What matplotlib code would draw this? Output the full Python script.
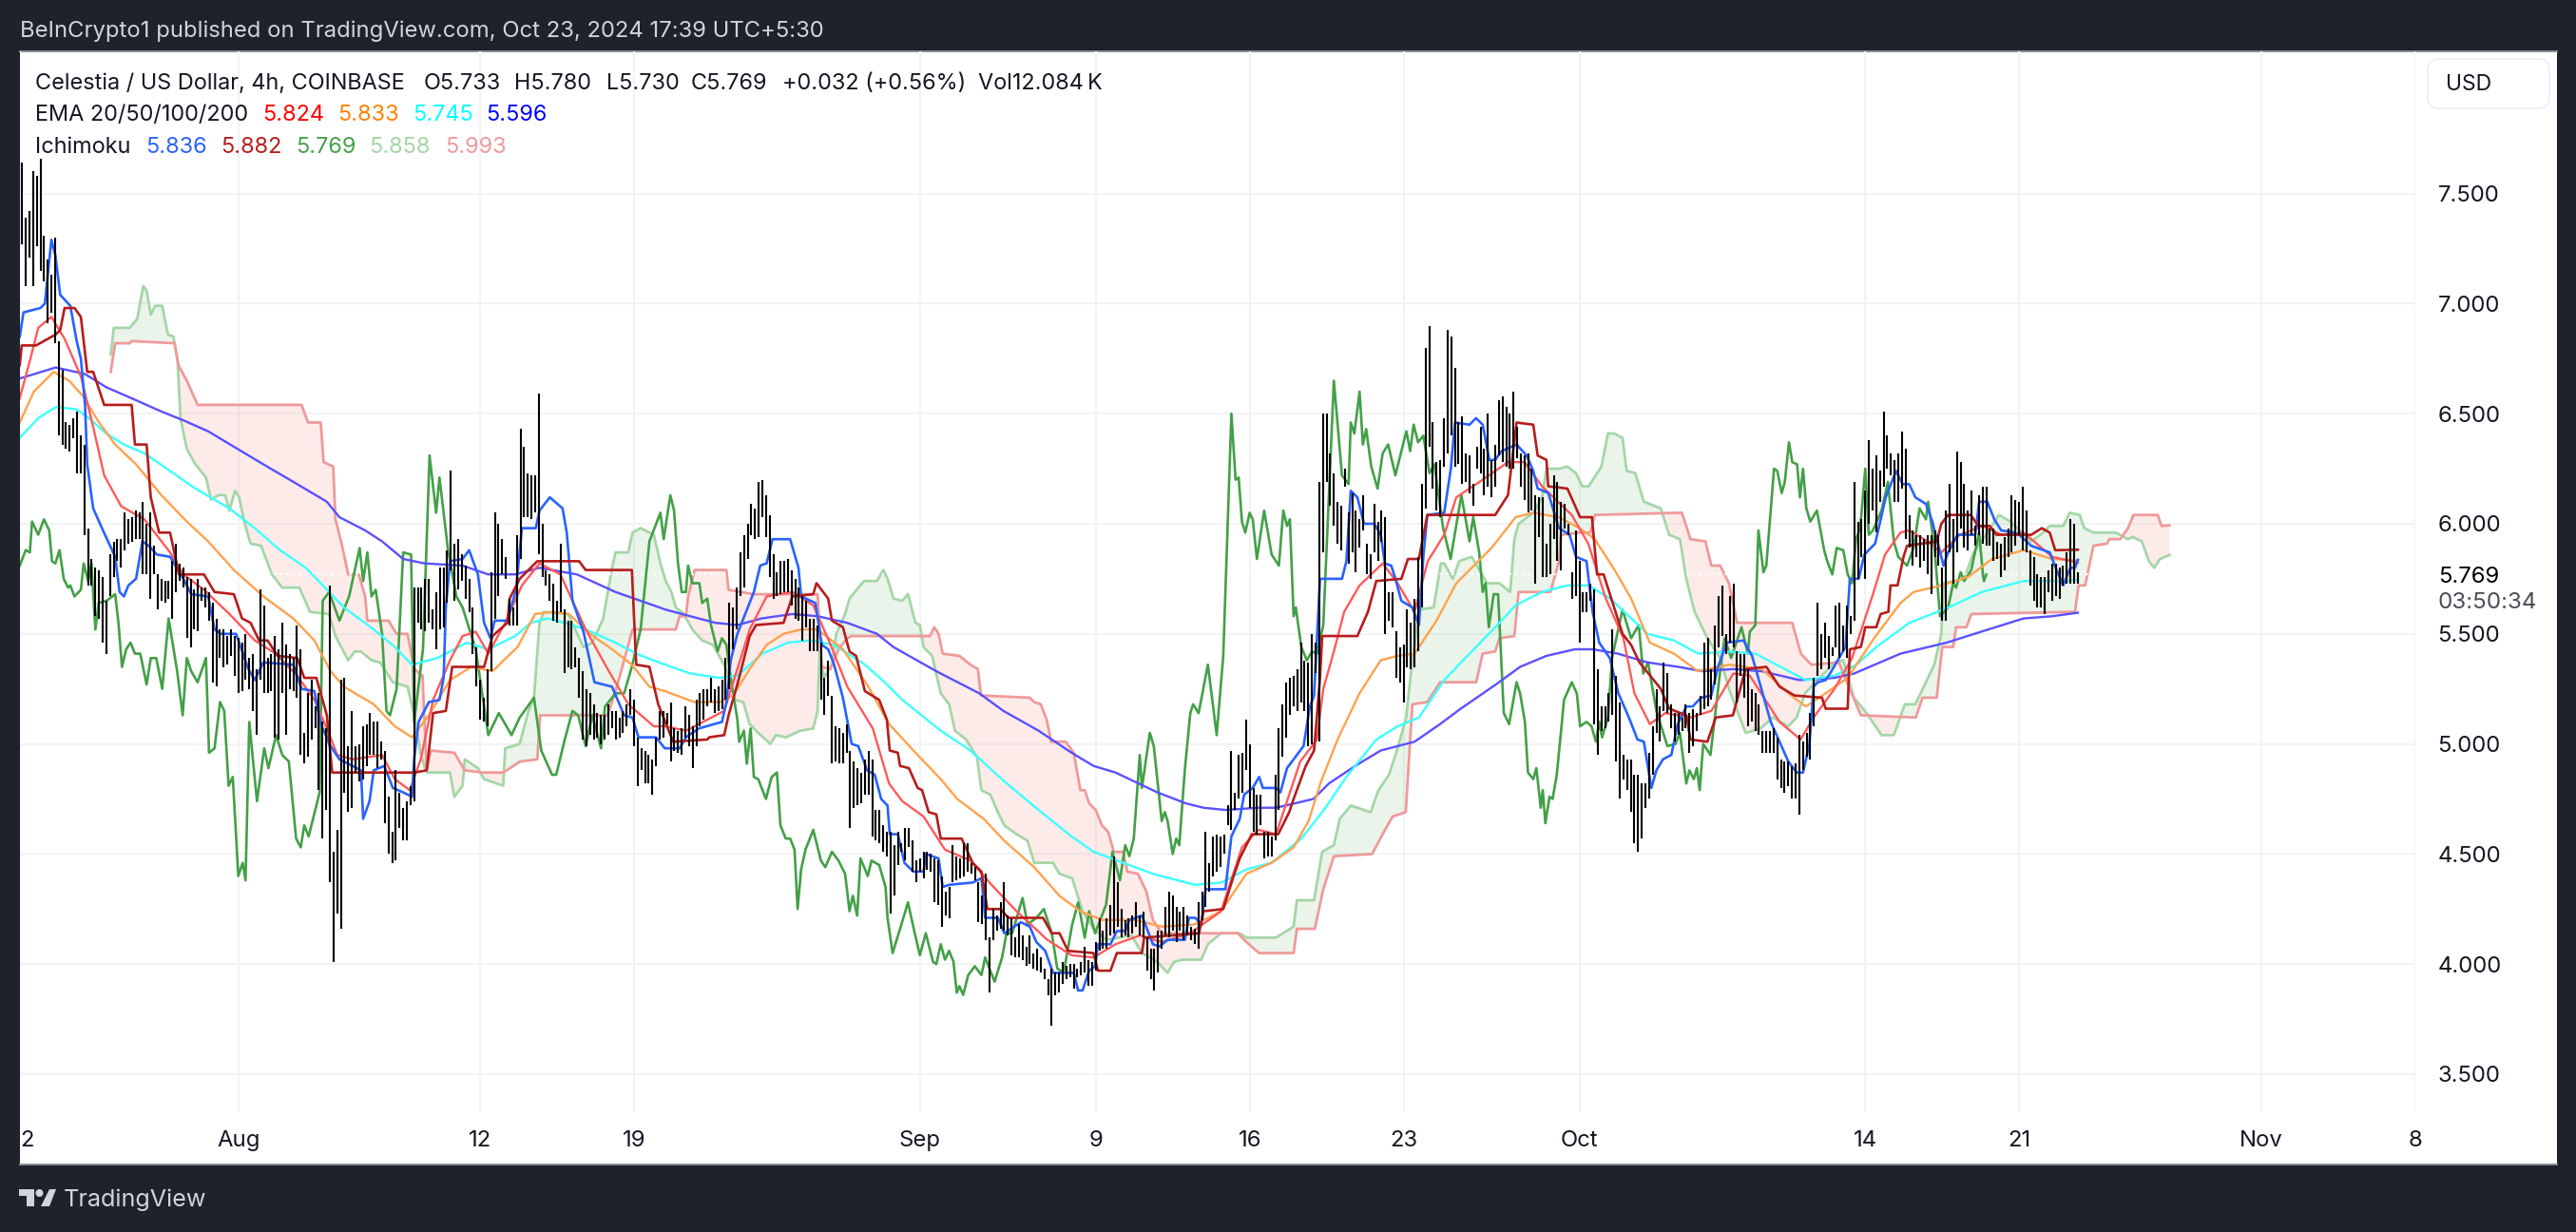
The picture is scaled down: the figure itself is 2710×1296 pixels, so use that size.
import numpy as np
import pandas as pd
import matplotlib
matplotlib.use('Agg')
import matplotlib.pyplot as plt
from matplotlib.patches import Rectangle, FancyBboxPatch, Polygon, Circle

plt.rcParams['font.family'] = ['Inter', 'DejaVu Sans']

# 4h bars, days are counted from Aug 1 2024
bar_high = [
7.64,7.39,7.42,7.60,7.58,7.66,7.31,7.20,7.13,7.30,
6.83,6.70,6.46,6.45,6.48,6.51,6.40,6.36,5.98,5.84,
5.80,5.79,5.76,5.65,5.86,5.92,5.93,5.93,6.05,6.02,
6.03,6.06,6.05,6.10,6.00,6.05,5.90,5.77,5.75,5.74,
5.74,5.83,5.91,5.82,5.80,5.76,5.75,5.70,5.75,5.71,
5.71,5.69,5.64,5.57,5.52,5.52,5.49,5.52,5.49,5.48,
5.46,5.50,5.39,5.41,5.34,5.70,5.63,5.39,5.41,5.49,
5.43,5.55,5.45,5.41,5.39,5.54,5.43,5.05,5.23,5.29,
5.17,5.23,5.10,5.07,5.72,4.51,4.61,5.29,5.30,4.99,
5.15,4.99,5.00,5.08,5.09,5.14,5.10,5.10,5.01,4.97,
4.76,4.60,4.88,4.78,4.71,4.74,4.81,5.71,5.71,5.71,
5.75,5.75,5.61,5.69,5.80,5.80,5.88,6.24,5.91,5.93,
5.86,5.81,5.75,5.62,5.44,5.29,5.21,5.34,5.78,6.05,
6.00,5.93,5.85,5.66,5.62,5.95,6.43,6.35,6.23,6.22,
6.22,6.59,6.00,5.79,5.77,5.73,5.65,5.91,5.61,5.56,
5.56,5.44,5.39,5.33,5.25,5.23,5.18,5.14,5.13,5.13,
5.18,5.15,5.15,5.12,5.15,5.18,5.25,5.20,5.03,4.98,
4.97,4.95,4.93,5.03,5.15,5.15,5.14,5.19,5.07,5.06,
5.07,5.17,5.13,5.08,5.20,5.23,5.25,5.25,5.30,5.25,
5.26,5.29,5.39,5.64,5.62,5.71,5.87,5.95,6.00,6.09,
6.07,6.19,6.20,6.13,6.04,5.86,5.78,5.83,5.83,5.84,
5.79,5.75,5.71,5.67,5.65,5.57,5.57,5.54,5.46,5.30,
5.38,5.22,5.08,5.07,5.05,5.09,4.97,4.92,4.89,4.87,
4.93,4.97,4.93,4.70,4.70,4.63,4.60,4.60,4.54,4.60,
4.55,4.62,4.62,4.56,4.47,4.48,4.51,4.51,4.50,4.48,
4.47,4.40,4.33,4.35,4.54,4.49,4.48,4.55,4.55,4.46,
4.44,4.37,4.31,4.41,4.12,4.25,4.22,4.28,4.37,4.22,
4.21,4.12,4.18,4.13,4.08,4.13,4.05,4.07,4.03,3.98,
3.93,3.98,3.96,3.96,4.01,3.99,4.00,4.00,3.98,4.01,
4.08,4.02,4.01,4.10,4.21,4.15,4.21,4.27,4.49,4.37,
4.25,4.20,4.21,4.22,4.28,4.22,4.24,4.12,4.07,4.07,
4.15,4.15,4.26,4.33,4.31,4.26,4.24,4.26,4.22,4.17,
4.16,4.28,4.33,4.60,4.46,4.58,4.59,4.58,4.59,4.72,
4.97,4.78,4.95,4.96,5.11,5.00,4.80,4.77,4.77,4.60,
4.60,4.58,4.86,5.07,5.18,5.28,5.30,5.31,5.34,5.46,
5.38,5.37,5.50,5.46,6.19,6.50,6.50,6.32,6.23,6.10,
6.08,6.25,6.05,6.14,6.06,6.02,6.13,5.91,5.86,6.09,
6.01,6.06,6.03,5.69,5.69,5.51,5.44,5.45,5.61,5.55,
5.66,5.85,6.18,6.80,6.90,6.46,6.28,6.29,6.48,6.88,
6.85,6.71,6.46,6.49,6.32,6.31,6.18,6.35,6.44,6.34,
6.50,6.29,6.36,6.56,6.58,6.53,6.50,6.60,6.44,6.32,
6.31,6.32,6.25,6.13,6.12,6.12,5.91,6.00,6.22,6.19,
6.10,6.09,6.00,5.78,5.97,5.83,5.69,5.69,5.73,5.70,
5.34,5.17,5.17,5.23,5.52,5.31,5.19,4.95,4.93,4.93,
4.86,4.86,4.82,4.82,4.96,5.08,5.25,5.17,5.37,5.32,
5.18,5.14,5.14,5.12,5.18,5.14,5.16,5.14,5.22,5.46,
5.48,5.34,5.54,5.67,5.72,5.50,5.67,5.73,5.42,5.41,
5.41,5.34,5.25,5.23,5.18,5.06,5.06,5.06,5.07,5.03,
4.93,4.92,4.92,4.90,4.91,5.04,5.01,5.05,5.14,5.30,
5.64,5.50,5.55,5.49,5.44,5.63,5.64,5.54,5.63,5.58,
6.19,6.01,6.02,6.15,6.38,6.25,6.31,6.24,6.51,6.40,
6.32,6.29,6.32,6.42,6.34,6.04,5.97,5.95,5.95,5.93,
5.95,5.95,5.97,5.95,5.80,6.06,6.18,6.02,6.33,6.28,
6.18,6.06,6.15,5.99,6.13,6.17,6.17,5.98,5.98,5.92,
5.91,5.94,5.98,6.13,6.11,6.10,6.17,6.06,5.88,5.85,
5.77,5.76,5.76,5.79,5.82,5.82,5.80,5.81,5.87,6.02,
6.00,5.78]
bar_low = [
7.27,7.08,7.21,7.08,7.26,7.15,7.10,6.91,6.96,6.82,
6.40,6.36,6.34,6.33,6.39,6.23,6.23,5.95,5.72,5.72,
5.58,5.57,5.46,5.41,5.67,5.76,5.83,5.80,5.88,5.91,
5.92,5.93,5.93,5.77,5.77,5.66,5.77,5.61,5.65,5.64,
5.66,5.57,5.69,5.74,5.71,5.48,5.44,5.52,5.51,5.65,
5.62,5.56,5.28,5.26,5.39,5.35,5.36,5.40,5.31,5.23,
5.24,5.29,5.25,5.15,5.04,5.29,5.23,5.23,5.24,5.03,
5.02,5.23,5.04,5.25,5.24,5.21,4.95,4.91,4.94,5.02,
5.07,4.79,4.57,4.70,4.37,4.01,4.23,4.16,4.78,4.69,
4.71,4.87,4.83,4.84,4.90,4.95,4.95,4.89,4.93,4.64,
4.50,4.46,4.47,4.62,4.56,4.56,4.72,4.74,5.55,5.52,
5.51,5.55,5.52,5.43,5.52,5.53,5.64,5.79,5.65,5.70,
5.74,5.66,5.60,5.41,5.26,5.11,5.10,5.08,5.33,5.57,
5.67,5.77,5.75,5.54,5.54,5.54,5.84,6.03,6.03,6.02,
6.05,5.86,5.76,5.72,5.65,5.56,5.55,5.60,5.32,5.35,
5.34,5.35,5.21,5.02,4.99,5.04,5.02,5.03,5.00,5.02,
5.04,5.07,5.02,5.03,5.05,5.08,5.13,4.99,4.81,4.88,
4.82,4.82,4.77,4.90,5.02,5.03,5.09,4.92,4.97,4.96,
4.95,5.03,4.99,4.89,4.99,5.08,5.11,5.17,5.19,5.14,
5.15,5.16,5.20,5.25,5.43,5.52,5.67,5.71,5.84,5.95,
5.93,5.94,6.03,5.94,5.76,5.66,5.67,5.68,5.69,5.69,
5.63,5.57,5.56,5.47,5.53,5.42,5.42,5.42,5.20,5.13,
5.22,4.91,4.92,4.91,4.91,4.96,4.62,4.71,4.72,4.73,
4.77,4.77,4.58,4.56,4.55,4.51,4.49,4.23,4.31,4.45,
4.51,4.47,4.53,4.42,4.37,4.42,4.39,4.43,4.42,4.28,
4.27,4.17,4.22,4.21,4.37,4.38,4.39,4.40,4.42,4.41,
4.38,4.19,4.18,4.11,3.87,4.11,4.15,4.16,4.15,4.13,
4.04,4.03,4.03,4.02,3.99,4.00,3.98,3.97,3.96,3.93,
3.86,3.72,3.86,3.87,3.91,3.93,3.94,3.89,3.94,3.95,
3.96,3.90,3.90,3.97,4.06,4.07,4.07,4.13,4.14,4.17,
4.12,4.13,4.12,4.14,4.17,4.13,4.12,3.97,3.93,3.88,
3.96,4.07,4.13,4.12,4.15,4.10,4.15,4.11,4.13,4.11,
4.09,4.07,4.20,4.26,4.33,4.40,4.42,4.44,4.50,4.63,
4.61,4.70,4.75,4.78,4.88,4.71,4.60,4.59,4.63,4.48,
4.49,4.49,4.56,4.70,4.94,5.03,5.13,5.17,5.15,5.19,
5.15,4.99,5.00,5.32,5.01,5.87,6.19,6.08,5.99,5.91,
5.88,6.17,5.82,5.87,5.78,5.89,5.97,5.77,5.75,5.87,
5.83,5.92,5.50,5.56,5.53,5.30,5.28,5.19,5.35,5.34,
5.35,5.42,5.62,6.07,6.35,6.16,6.06,6.03,6.26,6.32,
6.40,6.26,6.27,6.18,6.19,6.14,6.08,6.25,6.23,6.13,
6.17,6.12,6.17,6.31,6.28,6.26,6.25,6.25,6.30,6.17,
6.11,6.05,6.06,5.73,5.94,5.76,5.76,5.77,5.93,5.83,
5.79,5.98,5.95,5.66,5.67,5.46,5.60,5.60,5.65,5.09,
4.95,5.06,5.07,5.10,5.13,4.92,4.75,4.84,4.79,4.69,
4.55,4.51,4.57,4.71,4.75,4.86,5.05,5.01,5.15,5.14,
5.07,5.01,5.04,5.06,5.07,4.96,4.99,5.06,5.13,5.16,
5.17,5.20,5.27,5.44,5.49,5.41,5.46,5.44,5.19,5.31,
5.21,5.08,5.10,5.06,5.04,4.96,4.96,4.96,4.96,4.84,
4.80,4.78,4.81,4.75,4.75,4.68,4.88,4.94,4.93,5.08,
5.31,5.34,5.39,5.34,5.40,5.44,5.39,5.42,5.39,5.50,
5.56,5.75,5.85,5.75,6.00,6.06,5.96,6.10,6.17,6.25,
6.22,6.10,6.10,6.16,5.93,5.89,5.81,5.85,5.80,5.83,
5.77,5.68,5.85,5.81,5.56,5.56,5.87,5.73,5.87,5.98,
5.89,5.88,5.95,5.90,5.95,5.91,5.90,5.90,5.83,5.84,
5.76,5.79,5.85,5.87,5.90,5.95,5.88,5.87,5.72,5.65,
5.62,5.62,5.59,5.69,5.65,5.67,5.66,5.72,5.73,5.73,
5.73,5.73]

ema200_day = [-9.94,-8.3,-6.97,-6,-4.85,-3.5,-2.5,-1.37,-0.2,1.14,2.68,4.03,4.6,5.77,6.54,7.5,8.47,10.2,11.37,12.6,13.7,15.4,17.16,19.44,20.56,21.7,22.7,23.8,25.2,26.35,27.7,29.05,29.8,31.75,33.7,34.8,36.4,37.9,38.9,39.9,41.8,43.1,43.9,44.9,46.4,47.2,48.9,49.6,50.8,51.96,53.5,54.66,55.6,57.2,58.3,59.5,60.8,61.6,62.75,64.1,65.5,66.6,68,69.3,71,72.6,73.5,75.6,77.7,79.6,81.2,82.5,83.67]
ema200 = [6.66,6.71,6.68,6.62,6.57,6.51,6.47,6.42,6.35,6.27,6.18,6.10,6.03,5.97,5.92,5.84,5.82,5.81,5.77,5.77,5.80,5.77,5.69,5.61,5.58,5.55,5.54,5.57,5.59,5.58,5.55,5.50,5.44,5.33,5.23,5.15,5.06,4.96,4.90,4.87,4.78,4.73,4.71,4.70,4.71,4.71,4.75,4.82,4.90,4.97,5.01,5.09,5.16,5.27,5.35,5.40,5.43,5.43,5.41,5.37,5.35,5.33,5.34,5.33,5.29,5.30,5.32,5.41,5.46,5.52,5.57,5.58,5.596]

ema100_day = [-9.94,-9.1,-8.3,-7.36,-6.8,-6,-5.2,-4.27,-3.1,-1.95,-0.4,0.75,1.9,3.07,3.94,4.8,6.16,7.12,7.9,9.05,10.4,11.37,12.6,13.3,14.07,14.85,15.8,17.16,18.1,19.4,20.56,21.9,22.7,23.84,25,26,27.1,28.5,29.4,30.2,31.95,33.3,34.84,36.4,37.9,38.9,40.25,41.6,43.5,44.7,45.85,47,48.35,49.45,50.4,51.76,52.73,53.7,54.85,56,57.17,58.1,59.3,60.45,61.4,62.4,64.1,65.3,66.4,67.8,69,70.15,71.3,72.6,73.6,74.5,76,77.67,79.3,81.2,82.9,83.67]
ema100 = [6.39,6.48,6.53,6.52,6.48,6.41,6.36,6.32,6.24,6.16,6.07,5.98,5.88,5.80,5.71,5.62,5.52,5.44,5.36,5.39,5.46,5.43,5.49,5.55,5.57,5.55,5.52,5.46,5.41,5.36,5.32,5.30,5.31,5.41,5.46,5.47,5.45,5.36,5.28,5.20,5.06,4.97,4.83,4.70,4.58,4.51,4.46,4.41,4.36,4.37,4.43,4.46,4.57,4.71,4.85,5.02,5.08,5.12,5.29,5.41,5.53,5.63,5.69,5.72,5.72,5.66,5.50,5.47,5.41,5.42,5.41,5.35,5.29,5.31,5.36,5.44,5.55,5.615,5.69,5.74,5.74,5.745]

ema50_day = [-9.94,-9.3,-8.4,-7.7,-7.06,-6.4,-5.6,-4.65,-3.5,-2.34,-1.37,-0.2,1.14,2.5,3.46,4.2,4.8,6.16,7.12,7.9,8.67,9.63,10.6,11.56,12.7,13.5,14.27,15.04,16,17,17.9,18.7,19.4,20.74,21.9,22.5,23.26,24.03,24.8,25.6,26.35,27.5,28.66,29.6,30.8,31.95,32.7,33.9,34.84,36.2,37.35,38.3,39.3,40.8,42,43.5,44.7,45.85,47,48,48.68,49.25,50,51,51.96,52.73,53.5,54.5,55.4,57,58.1,58.9,60.07,61,61.7,62.6,63.35,64.2,65.3,66.4,67.8,69.3,70.5,71.3,72.2,73.2,74.4,75.6,76.2,77.46,78.7,79.77,81.2,82.5,83.67]
ema50 = [6.46,6.60,6.69,6.65,6.58,6.47,6.36,6.27,6.13,6.01,5.92,5.79,5.67,5.57,5.47,5.33,5.26,5.18,5.08,5.03,5.13,5.29,5.35,5.33,5.44,5.59,5.60,5.59,5.50,5.43,5.36,5.26,5.24,5.19,5.19,5.22,5.34,5.45,5.50,5.52,5.52,5.43,5.26,5.09,4.96,4.84,4.75,4.66,4.56,4.44,4.31,4.24,4.20,4.20,4.17,4.18,4.24,4.41,4.46,4.53,4.65,4.83,5.02,5.23,5.38,5.40,5.41,5.56,5.73,5.89,6.03,6.05,6.03,5.98,5.93,5.79,5.66,5.46,5.41,5.33,5.36,5.34,5.23,5.17,5.23,5.30,5.48,5.64,5.69,5.72,5.76,5.84,5.88,5.84,5.833]

ema20_day = [-9.94,-9.48,-9.1,-8.5,-7.9,-7.16,-6.6,-6.1,-5.33,-4.27,-3.1,-2.5,-1.56,-0.4,0.75,1.7,2.68,3.46,4.03,4.5,5.2,6.54,7.12,7.8,8.3,8.86,9.63,10.2,10.8,11.37,12.14,12.9,13.7,14.65,15.8,16.8,17.74,18.9,19.44,20.36,21.33,22.1,22.7,23.26,24.03,25.2,26.15,26.9,27.7,28.86,29.6,30.2,31.17,32.14,33.3,34.26,35.4,36.8,37.9,38.9,39.9,41,42,43.3,44.7,45.65,46.4,47.2,48.3,49.06,49.35,49.83,50.3,51,52.05,52.73,53.5,54.1,54.85,55.4,56.6,57.75,58.5,59.3,60.65,61.4,62.2,63,63.5,64.2,64.9,66.05,67,68,68.75,70.1,71.06,71.65,72.6,73.4,74.35,74.9,75.6,76,76.83,77.46,78.3,79.35,80.2,81.2,82.5,83.67]
ema20 = [6.57,6.74,6.89,6.94,6.84,6.67,6.44,6.22,6.08,6.02,5.87,5.77,5.70,5.59,5.47,5.41,5.31,5.20,5.07,4.95,4.93,4.95,4.84,4.79,4.93,5.20,5.38,5.49,5.51,5.41,5.55,5.72,5.82,5.77,5.52,5.34,5.18,5.08,5.08,5.06,5.11,5.15,5.34,5.52,5.67,5.69,5.63,5.46,5.26,5.07,4.82,4.74,4.67,4.52,4.47,4.36,4.24,4.11,4.04,4.03,4.09,4.13,4.10,4.14,4.24,4.53,4.61,4.59,4.92,5.02,5.25,5.42,5.60,5.72,5.82,5.73,5.60,5.83,5.95,6.12,6.20,6.28,6.28,6.17,6.04,5.91,5.66,5.48,5.23,5.09,5.14,5.12,5.15,5.32,5.31,5.10,5.02,5.12,5.25,5.39,5.68,5.86,5.96,5.97,5.92,5.87,5.95,5.99,5.95,5.96,5.85,5.824]

kijun_day = [-9.94,-9.85,-9.2,-8.3,-8.1,-7.9,-7.45,-7.16,-6.87,-6.6,-6.1,-4.85,-4.7,-4.17,-3.98,-3.6,-3.1,-2.7,-1.56,-1.08,-0.2,0.17,0.56,0.95,1.33,1.8,2.68,3,3.55,4.03,4.27,8,8.57,8.86,9.44,9.73,11.18,11.56,12.24,12.34,12.8,13.6,15.5,15.8,17.9,18.1,18.7,19.1,19.78,21.33,21.42,22.1,22.3,22.78,23.26,23.55,24.8,25.2,26.15,26.3,26.83,27,27.5,27.8,28.1,28.5,29.15,29.5,29.63,30,30.1,30.5,30.9,31.1,31.4,31.75,31.95,32.9,33.4,33.8,34.07,34.65,35.03,36.6,37,37.35,37.74,38.9,39.1,39.67,39.96,41.1,41.2,43.7,43.9,44.8,45.27,45.55,46.1,47.3,47.8,48,48.55,48.93,49.2,49.3,50.9,51.38,51.76,52.9,53.2,53.7,54.08,57.17,57.75,58.14,58.9,59.1,59.5,59.58,60.45,61.03,61.57,61.8,62.1,62.96,63.35,63.73,64.3,64.7,65.08,65.86,66.05,66.82,67.2,67.98,68.56,69.5,70.1,70.78,72.03,72.2,73.2,73.3,73.8,74,74.5,74.7,75.05,75.15,75.47,75.74,75.9,76.6,77.25,77.46,77.77,78.8,79.14,79.66,79.97,81.55,82.03,82.39,82.64,83.67]
kijun = [6.72,6.81,6.81,6.86,6.88,6.98,6.98,6.94,6.69,6.69,6.54,6.54,6.36,6.36,6.12,5.96,5.96,5.77,5.77,5.69,5.68,5.57,5.55,5.47,5.47,5.40,5.39,5.30,5.30,5.13,4.87,4.87,4.88,5.14,5.15,5.35,5.35,5.49,5.55,5.66,5.75,5.83,5.83,5.79,5.79,5.36,5.35,5.18,5.01,5.02,5.03,5.04,5.13,5.30,5.49,5.54,5.55,5.67,5.68,5.73,5.66,5.56,5.53,5.42,5.40,5.24,5.20,5.11,4.97,4.96,4.90,4.89,4.80,4.79,4.69,4.68,4.57,4.57,4.46,4.42,4.25,4.25,4.21,4.21,4.14,4.14,4.06,4.05,3.97,3.97,4.05,4.05,4.12,4.14,4.24,4.25,4.40,4.48,4.59,4.59,4.69,4.75,4.90,4.97,5.30,5.49,5.49,5.60,5.74,5.75,5.84,5.84,6.04,6.04,6.13,6.46,6.45,6.31,6.29,6.17,6.16,6.03,6.03,5.77,5.77,5.50,5.45,5.37,5.30,5.25,5.16,5.13,5.02,5.01,5.12,5.13,5.34,5.35,5.26,5.22,5.21,5.16,5.16,5.43,5.44,5.53,5.53,5.59,5.60,5.72,5.72,5.85,5.90,5.91,5.92,6.00,6.04,6.04,5.99,5.99,5.95,5.95,5.98,5.96,5.88,5.882]

tenkan_day = [-9.94,-9.77,-9,-8.8,-8.5,-8.32,-8.1,-7.64,-7.35,-7.16,-6.97,-6.87,-6.6,-6.2,-5.6,-5.4,-5.2,-5,-4.65,-4.36,-4.07,-3.7,-3.1,-2.5,-2.14,-1.37,-1.08,-0.8,-0.1,0.46,0.75,1.14,2.5,2.88,3.46,3.75,4.03,4.13,4.6,5.2,5.58,5.68,5.97,6.16,6.64,7.03,7.5,7.9,8,8.2,8.67,9.15,9.34,9.44,9.63,10.2,10.5,10.9,11.18,11.47,11.66,12.24,12.63,12.9,13.53,13.7,14.17,14.75,14.94,15.2,15.7,16.2,17,17.55,17.93,18.2,19,19.4,20.07,20.36,20.94,22,22.2,22.4,22.7,23.45,23.74,24.03,24.3,25.1,25.48,25.6,26.25,26.54,26.83,27.1,27.5,27.9,28.2,28.6,28.95,29.24,29.53,29.63,30,30.3,30.7,31.17,31.27,31.85,32.04,32.33,33.4,33.8,33.97,34.55,34.84,35.6,36,36.3,36.7,37.06,38,38.2,38.4,38.7,38.97,39.1,39.67,39.96,40.34,40.53,41.1,41.6,41.9,42.27,43.05,43.24,43.53,43.8,44,44.9,45.17,45.55,45.75,46.14,46.43,46.6,47.2,47.4,47.7,48.45,48.74,48.93,49.2,50.2,50.4,50.6,50.9,51.2,51.67,51.96,52.15,52.44,52.63,52.9,53.4,53.7,53.9,54.08,54.85,55.15,55.34,56,56.3,56.6,56.9,57.17,57.46,58.14,58.6,58.9,59.1,59.58,60.07,60.55,60.84,61.32,61.6,61.9,62.38,62.77,63.25,63.64,63.93,64.27,64.5,64.8,65.18,65.47,65.86,66.15,66.53,67,67.3,67.7,68.46,68.85,69.33,69.7,70.5,70.88,71.17,71.46,71.65,71.84,72.2,72.4,73.1,73.3,73.7,73.96,74.45,74.93,75.4,75.7,76,76.28,76.76,77.05,77.56,77.77,78.2,79,79.18,79.55,79.87,80.18,80.8,81,81.55,82.39,82.7,83,83.33,83.54,83.67]
tenkan = [6.85,6.96,6.98,7.00,7.29,7.22,7.04,6.99,6.83,6.75,6.54,6.27,6.07,5.98,5.85,5.69,5.67,5.72,5.75,5.92,5.90,5.86,5.85,5.75,5.68,5.67,5.52,5.50,5.50,5.34,5.29,5.37,5.36,5.25,5.24,5.09,5.03,5.00,4.93,4.90,4.88,4.66,4.74,4.88,4.90,4.80,4.78,4.76,4.93,5.10,5.19,5.20,5.30,5.62,5.83,5.84,5.88,5.77,5.55,5.48,5.56,5.56,5.70,5.98,5.98,6.06,6.12,6.07,5.96,5.65,5.51,5.28,5.26,5.13,5.12,5.03,5.03,4.98,4.98,5.03,5.07,5.10,5.19,5.38,5.50,5.69,5.81,5.82,5.93,5.93,5.80,5.67,5.64,5.45,5.43,5.36,5.21,5.00,4.99,4.88,4.86,4.75,4.72,4.59,4.59,4.46,4.42,4.42,4.50,4.48,4.35,4.36,4.37,4.39,4.21,4.21,4.14,4.19,4.17,4.10,4.06,3.96,3.96,3.88,3.88,3.97,3.99,4.09,4.09,4.15,4.15,4.20,4.22,4.09,4.08,4.11,4.11,4.21,4.21,4.18,4.34,4.34,4.58,4.66,4.77,4.80,4.85,4.80,4.80,4.78,4.89,4.99,5.17,5.22,5.75,5.75,5.83,6.15,6.12,6.00,6.00,5.95,5.82,5.81,5.75,5.65,5.62,5.54,5.85,6.04,6.05,6.25,6.46,6.45,6.48,6.45,6.29,6.29,6.33,6.36,6.31,6.24,6.16,6.14,5.98,5.95,5.85,5.83,5.60,5.46,5.39,5.23,5.12,5.02,5.01,4.80,4.88,4.93,4.95,5.09,5.17,5.17,5.21,5.22,5.35,5.46,5.47,5.40,5.23,5.10,4.92,4.87,4.87,5.00,5.26,5.28,5.29,5.32,5.44,5.75,5.75,5.86,5.91,6.12,6.24,6.18,6.18,6.12,6.09,6.01,5.81,5.87,5.95,5.95,6.10,6.10,6.02,5.97,5.96,5.95,5.90,5.87,5.79,5.72,5.80,5.80,5.836]

chikou_day = [-9.94,-9.67,-9.48,-9.38,-9.1,-8.84,-8.6,-8.47,-8.32,-8.13,-7.94,-7.74,-7.64,-7.45,-7.16,-7.03,-6.83,-6.68,-6.5,-6.35,-6,-5.6,-5.45,-5.29,-5.1,-4.9,-4.7,-4.46,-4.17,-3.98,-3.73,-3.46,-3.17,-2.78,-2.53,-2.34,-2.14,-1.85,-1.47,-1.33,-1.08,-0.83,-0.64,-0.44,-0.25,0,0.2,0.33,0.5,0.85,1.18,1.37,1.72,2,2.3,2.63,2.84,3,3.2,3.7,3.84,4.13,4.6,5.04,5.52,5.68,5.87,6.06,6.25,6.54,6.74,6.9,7.2,7.5,7.86,8,8.4,8.7,9,9.15,9.54,9.92,10.2,10.8,11.37,11.85,12.43,12.8,13.45,13.78,14.27,14.46,14.85,15.2,15.46,15.8,16.1,16.5,16.68,17.16,17.55,17.9,18.3,18.7,19.2,19.35,19.65,19.82,20,20.17,20.36,20.46,20.65,20.97,21.1,21.33,21.5,21.8,22,22.2,22.4,22.7,22.78,23,23.13,23.3,23.45,23.65,24,24.26,24.5,24.66,24.9,25.1,25.3,25.44,25.6,25.8,26.15,26.5,26.7,27,27.3,27.6,27.8,27.95,28.15,28.3,28.63,28.8,29.15,29.44,29.53,29.76,30.1,30.46,30.7,31,31.27,31.6,31.75,31.95,32.14,32.33,32.53,32.68,32.8,32.97,33.2,33.5,33.8,33.97,34.4,34.74,34.94,35.2,35.67,35.9,36.3,36.64,37,37.25,37.54,37.93,38.2,38.5,38.7,38.97,39.47,39.76,40.1,40.34,40.53,40.73,41,41.1,41.46,41.64,42,42.14,42.27,42.5,42.66,42.8,43.05,43.3,43.43,43.68,44.1,44.5,44.8,45.17,45.36,45.5,45.65,45.8,46,46.14,46.33,46.66,47,47.33,47.53,47.7,47.83,48,48.1,48.35,48.6,48.84,49.06,49.35,49.83,50.2,50.5,50.6,50.76,51,51.15,51.3,51.53,51.82,52.05,52.3,52.63,53,53.13,53.3,53.46,53.66,53.9,54.18,54.4,54.8,55.14,55.63,56,56.17,56.44,56.6,56.73,56.88,57.1,57.3,57.56,57.8,58.14,58.3,58.52,58.66,58.9,59.04,59.24,59.33,59.45,59.64,59.78,59.97,60.3,60.65,60.88,61.03,61.32,61.55,61.75,61.9,62.03,62.3,62.48,62.96,63.35,63.7,63.9,64.12,64.5,65,65.37,65.57,65.86,66,66.2,66.34,66.47,66.63,66.96,67.4,67.6,67.9,68.37,68.66,68.75,69,69.14,69.37,69.5,69.85,70,70.2,70.34,70.53,70.68,70.9,71.03,71.17,71.32,71.5,71.8,72.13,72.27,72.5,72.7,73,73.2,73.4,73.58,73.77,74,74.16,74.35,74.74,75.03,75.3,75.5,75.9,76.2,76.47,76.76,76.86,77.15,77.4,77.77,78,78.13,78.34,78.5,78.82,79.18,79.35,79.4,79.5]
chikou = [5.81,5.88,5.87,6.01,5.95,6.02,5.97,5.83,5.82,5.88,5.75,5.71,5.72,5.67,5.70,5.82,5.74,5.82,5.52,5.64,5.65,5.68,5.55,5.35,5.43,5.46,5.41,5.41,5.27,5.39,5.39,5.25,5.57,5.33,5.13,5.39,5.33,5.28,5.39,4.96,4.98,5.19,5.15,4.81,4.85,4.40,4.46,4.38,5.10,4.74,4.98,4.89,5.04,4.95,4.92,4.57,4.53,4.63,4.58,4.78,5.65,5.69,5.56,5.67,5.89,5.74,5.87,5.67,5.70,5.50,5.15,5.13,5.25,5.87,5.86,5.10,5.43,6.31,6.05,6.21,5.88,5.67,5.62,5.43,5.04,5.14,5.04,5.12,5.21,4.97,4.86,4.86,5.02,5.15,5.13,4.99,5.13,4.98,5.17,5.23,5.23,5.35,5.52,5.92,6.05,5.93,6.13,6.06,5.82,5.69,5.69,5.81,5.73,5.73,5.64,5.66,5.54,5.42,5.48,5.45,5.30,5.11,5.01,5.06,4.91,5.07,4.85,4.84,4.75,4.85,4.87,4.63,4.57,4.57,4.52,4.25,4.43,4.52,4.61,4.47,4.44,4.51,4.47,4.41,4.24,4.31,4.22,4.48,4.40,4.47,4.45,4.35,4.21,4.05,4.16,4.28,4.17,4.04,4.14,4.01,4.00,4.09,4.02,4.06,4.01,3.87,3.90,3.86,3.95,3.99,3.95,4.03,3.92,4.03,4.14,4.14,4.30,4.18,4.21,4.25,4.14,3.98,3.96,4.18,4.28,4.12,4.24,4.14,4.27,4.51,4.38,4.54,4.49,4.57,4.95,4.80,5.05,4.99,4.65,4.69,4.65,4.50,4.57,4.54,4.88,5.14,5.18,5.14,5.36,5.04,5.40,6.50,6.20,6.21,6.01,5.96,6.05,6.02,5.84,6.06,5.86,5.81,6.06,5.99,6.02,5.58,5.62,5.44,5.38,5.42,5.41,5.54,6.65,6.22,6.18,6.46,6.41,6.60,6.36,6.43,6.26,6.16,6.32,6.36,6.22,6.37,6.42,6.33,6.45,6.37,6.40,6.23,6.27,5.98,5.84,6.13,5.92,6.03,5.87,5.69,5.73,5.53,5.68,5.68,5.14,5.09,5.28,5.23,5.10,4.87,4.84,4.89,4.71,4.79,4.64,4.76,4.75,4.86,5.20,5.28,5.23,5.08,5.10,5.08,5.01,5.10,5.03,5.12,5.39,5.61,5.48,5.54,5.32,5.37,5.15,4.99,5.00,5.05,4.82,4.88,4.84,4.89,4.79,5.00,4.95,5.33,5.48,5.39,5.53,5.41,5.51,5.54,5.97,5.78,5.81,6.25,6.24,6.14,6.19,6.37,6.28,6.27,6.12,6.25,6.07,6.01,6.06,5.88,5.83,5.77,5.89,5.88,5.77,5.73,5.93,5.98,6.25,5.95,5.97,6.06,6.19,5.92,5.85,5.81,5.89,6.07,6.02,6.10,5.89,5.58,5.62,5.73,5.71,5.78,5.74,5.79,5.96,5.77,5.74,5.769]

span_a_day = [-5.8,-5.66,-4.94,-4.6,-4.32,-4.17,-3.98,-3.78,-3.46,-3.2,-2.95,-2.76,-2.63,-2.34,-1.95,-1.47,-1.24,-0.9,-0.6,-0.4,-0.15,0.04,0.27,0.56,1.04,1.53,2,2.78,3.26,4.13,4.42,5,5.3,5.58,6.06,6.45,7.03,7.7,8,8.3,8.57,9.63,9.83,10.2,10.3,10.9,11.18,12.05,12.14,12.8,13.2,13.45,13.7,13.9,15,15.7,16.1,16.6,17,17.16,17.74,17.93,18.3,18.9,19.2,19.44,19.7,19.9,20.27,20.65,21.1,21.6,22.2,22.6,22.97,23.26,23.65,24.2,24.45,24.9,25.57,26.15,26.35,26.44,26.64,27,27.2,27.6,27.8,28.2,28.47,29.05,29.34,29.53,29.8,30.2,30.46,30.8,31,31.17,31.56,31.95,32.33,32.6,33.1,33.6,33.8,34.2,34.55,34.84,35.4,35.9,36.2,37.06,37.35,37.93,38.4,38.9,39.47,40.63,41.1,41.8,42.27,42.56,42.95,43.8,44.1,44.7,45.55,45.85,46.33,47.2,48,48.15,48.93,49.3,49.83,50.1,50.6,51.5,51.86,52.34,52.73,53.12,53.3,53.7,54.37,54.7,54.85,55.24,55.53,56.1,56.8,57.36,57.85,58.04,58.23,58.9,59.3,59.5,60.07,60.45,60.84,61.13,61.42,62,62.3,62.58,62.96,63.15,63.54,63.93,64.7,65.08,65.57,65.86,66.24,66.82,67.4,67.8,68.56,69.24,69.8,70.5,70.88,71.26,72.6,73,73.48,74.06,74.74,75.3,75.8,76.28,76.47,77.14,77.46,77.56,78.5,78.93,79.35,80.08,80.6,81.55,81.97,82.39,83,83.3,83.75,83.96,84.38,85,85.4,85.95,86.16,86.58,86.9,87.14,87.4,87.84]
span_a = [6.77,6.89,6.89,6.93,7.08,7.06,6.95,6.99,6.99,6.86,6.85,6.74,6.48,6.34,6.27,6.21,6.11,6.13,6.13,6.06,6.15,6.12,6.01,5.91,5.90,5.77,5.71,5.71,5.60,5.59,5.49,5.38,5.42,5.42,5.38,5.37,5.28,5.26,5.13,4.95,4.87,4.87,4.76,4.81,4.93,4.89,4.84,4.81,4.98,5.00,5.15,5.21,5.55,5.60,5.59,5.44,5.46,5.57,5.80,5.87,5.87,5.96,5.98,5.95,5.82,5.74,5.69,5.62,5.59,5.52,5.47,5.45,5.34,5.20,5.19,5.09,5.05,5.00,5.04,5.03,5.06,5.07,5.15,5.42,5.30,5.36,5.50,5.59,5.66,5.71,5.74,5.74,5.79,5.75,5.66,5.65,5.68,5.55,5.54,5.44,5.40,5.23,5.18,5.06,5.02,4.94,4.79,4.77,4.69,4.63,4.59,4.56,4.46,4.46,4.41,4.39,4.24,4.16,4.11,4.13,4.05,4.01,3.96,4.01,4.02,4.02,4.09,4.14,4.14,4.12,4.12,4.12,4.17,4.29,4.29,4.51,4.54,4.66,4.72,4.69,4.79,4.86,4.98,5.12,5.29,5.61,5.62,5.82,5.82,5.75,5.83,5.85,5.73,5.73,5.69,5.93,6.00,6.05,6.12,6.25,6.25,6.26,6.23,6.17,6.17,6.26,6.41,6.41,6.39,6.24,6.23,6.10,6.07,5.95,5.93,5.75,5.60,5.48,5.39,5.25,5.05,5.07,5.12,5.08,5.12,5.23,5.37,5.38,5.21,5.14,5.04,5.04,5.18,5.18,5.22,5.36,5.50,5.73,5.75,5.87,5.93,6.04,6.01,5.92,5.95,5.99,5.99,6.05,6.04,5.98,5.96,5.96,5.96,5.93,5.94,5.92,5.83,5.80,5.84,5.858]

span_b_day = [-5.8,-5.6,-4.94,-4.85,-2.9,-2.72,-2.34,-1.85,2.88,3.17,3.75,3.88,4.32,4.42,4.7,5,5.48,5.77,5.87,6.83,7.2,7.7,8,8.38,8.47,8.57,8.76,9.83,10.3,11.08,12.05,12.82,13.6,13.73,15.2,16.8,17.16,17.55,17.93,19.9,20.07,20.36,20.46,20.75,22.2,22.3,23.45,26.35,26.54,26.93,27.3,27.7,27.9,31.46,31.66,31.85,32.04,32.8,33.3,33.64,33.78,36,36.2,36.5,36.77,36.97,37.64,38,38.3,38.5,38.7,39,39.28,39.57,39.82,40.25,40.44,40.92,41.3,41.6,42,43.8,45.46,45.85,46.43,48,48.15,48.96,49.35,49.83,51.57,52.05,52.5,53.1,53.4,54.08,54.66,56.3,56.6,57.17,57.36,58.04,58.23,59.68,60.07,60.16,61.03,61.5,61.7,65.66,66.05,66.73,67,67.4,67.8,68.17,70.68,71.07,71.55,72.8,73.38,73.8,76.3,76.6,77.25,77.5,78,78.13,78.6,78.82,83.54,83.7,84,84.38,85,85.1,85.6,85.95,86.2,87.3,87.48,87.84]
span_b = [6.69,6.82,6.82,6.83,6.82,6.72,6.65,6.54,6.54,6.46,6.46,6.28,6.26,6.02,5.91,5.77,5.77,5.67,5.56,5.56,5.50,5.50,5.34,5.31,5.10,4.88,4.97,4.96,4.88,4.87,4.87,4.92,4.93,5.13,5.13,5.13,5.24,5.38,5.52,5.52,5.58,5.58,5.67,5.79,5.79,5.70,5.68,5.68,5.35,5.34,5.43,5.48,5.49,5.49,5.53,5.50,5.41,5.40,5.36,5.34,5.22,5.21,5.19,5.18,5.11,5.01,5.01,4.96,4.79,4.79,4.73,4.70,4.63,4.60,4.51,4.51,4.42,4.41,4.33,4.20,4.14,4.14,4.14,4.10,4.05,4.05,4.16,4.16,4.34,4.49,4.50,4.59,4.67,4.69,5.18,5.19,5.28,5.28,5.41,5.42,5.48,5.49,5.69,5.69,5.83,5.95,5.96,5.96,6.04,6.05,5.93,5.92,5.81,5.81,5.73,5.55,5.55,5.41,5.36,5.37,5.23,5.13,5.12,5.21,5.21,5.44,5.44,5.53,5.53,5.59,5.60,5.72,5.72,5.90,5.91,5.93,5.93,5.98,6.04,6.04,5.99,5.993]

price_ticks = [3.5, 4.0, 4.5, 5.0, 5.5, 6.0, 6.5, 7.0, 7.5]
time_ticks = [-9.93, 0, 11, 18, 31, 39, 46, 53, 61, 74, 81, 92, 99]
time_labels = ['2', 'Aug', '12', '19', 'Sep', '9', '16', '23', 'Oct', '14', '21', 'Nov', '8']
last_close = 5.769

frame = '#1e222d'
ink = '#131722'
grid_col = '#f2f3f5'
label_size = 17.2

fig = plt.figure(figsize=(27.10, 12.96), dpi=100, facecolor=frame)

# overlay in pixel units for the frame, legend and logo
ov = fig.add_axes([0, 0, 1, 1], zorder=0)
ov.set_xlim(0, 2710)
ov.set_ylim(1296, 0)
ov.axis('off')
ov.add_patch(Rectangle((21, 54), 2669, 1171, fc='white', ec='none'))
ov.plot([21, 2690], [54, 54], color='#8a8d96', lw=1.4)
ov.plot([21, 2690], [1225, 1225], color='#8a8d96', lw=1.4)

ax = fig.add_axes([21/2710, (1296-1170)/1296, (2541-21)/2710, (1170-54)/1296], zorder=1)
ax.patch.set_alpha(0)
ax.set_xlim(-9.93, 99.02)
ax.set_ylim(3.327, 8.146)
for s in ax.spines.values():
    s.set_visible(False)
ax.set_axisbelow(True)
ax.grid(True, color=grid_col, lw=1.5)

ax.yaxis.tick_right()
ax.set_yticks(price_ticks)
ax.set_yticklabels(['%.3f' % p for p in price_ticks], fontsize=label_size, color=ink, va='center_baseline')
ax.tick_params(axis='y', length=0, pad=17)
ax.set_xticks(time_ticks)
ax.set_xticklabels(time_labels, fontsize=label_size, color=ink)
ax.tick_params(axis='x', length=0, pad=14)
ax.get_xticklabels()[0].set_ha('left')

# cloud
xs = np.union1d(span_a_day, span_b_day)
xs = xs[(xs >= -5.8) & (xs <= 87.84)]
a = np.interp(xs, span_a_day, span_a)
b = np.interp(xs, span_b_day, span_b)
ax.fill_between(xs, a, b, where=a >= b, interpolate=True, color='#43a047', alpha=0.11, lw=0)
ax.fill_between(xs, a, b, where=a < b, interpolate=True, color='#f44336', alpha=0.10, lw=0)
ax.plot(span_a_day, span_a, color='#a5d6a7', lw=2)
ax.plot(span_b_day, span_b, color='#ef9a9a', lw=2)

ax.axhline(last_close, color='white', ls=(0, (1, 2)), lw=1.6)

ax.plot(chikou_day, chikou, color='#43a047', lw=1.9)
ax.plot(ema200_day, ema200, color='#5a50ff', lw=1.7)
ax.plot(ema100_day, ema100, color='#3dffff', lw=1.7)
ax.plot(ema50_day, ema50, color='#ffa24d', lw=1.7)
ax.plot(ema20_day, ema20, color='#ff5a5a', lw=1.7)
ax.plot(tenkan_day, tenkan, color='#2962ff', lw=1.9)
ax.plot(kijun_day, kijun, color='#b71c1c', lw=1.9)

bar_time = pd.date_range(end='2024-10-23 16:00', periods=len(bar_high), freq='4h')
bar_day = (bar_time - pd.Timestamp('2024-08-01')) / pd.Timedelta(days=1)
ax.vlines(bar_day, bar_low, bar_high, color='black', lw=1.5)

# last price on the scale
ov2 = fig.add_axes([0, 0, 1, 1], zorder=2)
ov2.set_xlim(0, 2710)
ov2.set_ylim(1296, 0)
ov2.axis('off')
ov2.text(2565, 607, '%.3f' % last_close, fontsize=label_size, color='black', va='center')
ov2.text(2565, 634, '03:50:34', fontsize=17.4, color='#4a4d55', va='center')

# USD button
ov2.add_patch(FancyBboxPatch((2560, 68), 116, 40, boxstyle='round,pad=6,rounding_size=12',
                             fc='white', ec='#eceef4', lw=1.2))
ov2.text(2573, 89, 'USD', fontsize=16.5, color=ink, va='center')

# published line
ov.text(21, 33, 'BeInCrypto1 published on TradingView.com, Oct 23, 2024 17:39 UTC+5:30',
        fontsize=17.15, color='#d1d4dc', va='center')

# legend rows
row1 = [(37, 'Celestia / US Dollar, 4h, COINBASE'), (446, 'O5.733'), (541, 'H5.780'), (638, 'L5.730'),
        (727, 'C5.769'), (823, '+0.032 (+0.56%)'), (1029, 'Vol12.084\u2009K')]
for x, s in row1:
    ov2.text(x, 88, s, fontsize=16.9, color=ink, va='center')
row2 = [(37, 'EMA 20/50/100/200', ink), (276, '5.824', '#ff0000'), (355, '5.833', '#ff8000'),
        (434, '5.745', '#00ffff'), (511, '5.596', '#0000ff')]
for x, s, c in row2:
    ov2.text(x, 121, s, fontsize=16.9, color=c, va='center')
row3 = [(37, 'Ichimoku', ink), (153, '5.836', '#2962ff'), (232, '5.882', '#b71c1c'),
        (311, '5.769', '#43a047'), (388, '5.858', '#a5d6a7'), (468, '5.993', '#ef9a9a')]
for x, s, c in row3:
    ov2.text(x, 155, s, fontsize=16.9, color=c, va='center')

# logo
logo = '#d1d4dc'
ov.add_patch(Polygon([(20, 1251), (36, 1251), (36, 1269), (28, 1269), (28, 1258), (20, 1258)], fc=logo, ec='none'))
ov.add_patch(Circle((41.5, 1255), 4, fc=logo, ec='none'))
ov.add_patch(Polygon([(52, 1251), (59, 1251), (52, 1269), (43, 1269)], fc=logo, ec='none'))
ov.text(67, 1262, 'TradingView', fontsize=18.1, color=logo, va='center')

fig.savefig('out.png', dpi=100, facecolor=frame)
